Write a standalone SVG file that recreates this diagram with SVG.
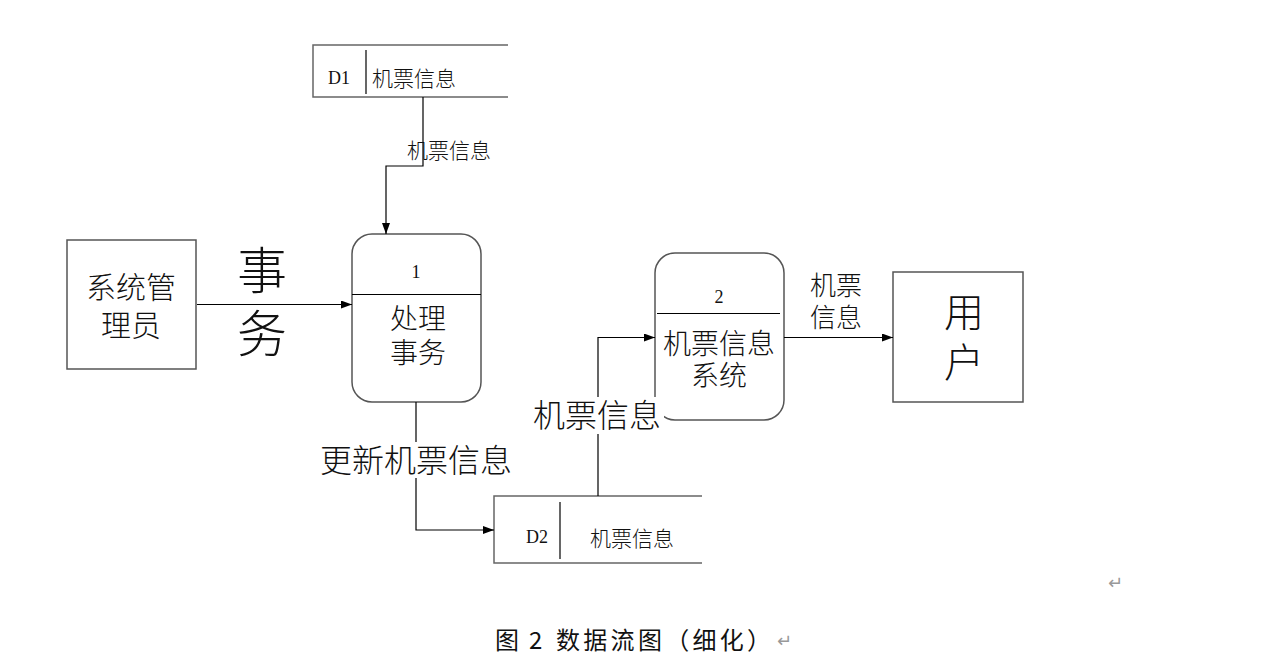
<svg xmlns="http://www.w3.org/2000/svg" width="1281" height="660" viewBox="0 0 1281 660">
<style>
.box{fill:#fff;stroke:#555;stroke-width:1.5}
.ln{fill:none;stroke:#000;stroke-width:1.2}
.store{fill:none;stroke:#666;stroke-width:1.5}
.cn{font-family:"Noto Sans CJK SC","Noto Sans CJK JP",sans-serif;font-weight:300;fill:#111}
.num{font-family:"Liberation Serif",serif;fill:#111;font-size:18px}
.cap{font-family:"Noto Sans CJK SC","Noto Sans CJK JP",sans-serif;font-size:24px;fill:#111}
.ret{font-family:"DejaVu Sans",sans-serif;font-size:18px;fill:#999}
.bg{fill:#fff}
.mid{text-anchor:middle}
</style>
<defs>
<marker id="arr" markerUnits="userSpaceOnUse" markerWidth="11" markerHeight="8" refX="11" refY="4" orient="auto">
<path d="M0,0 L11,4 L0,8 z" fill="#000"/>
</marker>
</defs>
<rect width="1281" height="660" fill="#fff"/>

<g id="admin">
<rect class="box" x="67" y="240" width="129" height="129"/>
<text class="cn mid" x="131" y="298" font-size="30">系统管</text>
<text class="cn mid" x="131" y="336" font-size="30">理员</text>
</g>

<g id="p1">
<rect class="box" x="352" y="234" width="129" height="168" rx="20"/>
<line class="ln" x1="352" y1="294.5" x2="481" y2="294.5"/>
<text class="num mid" x="416" y="278">1</text>
<text class="cn mid" x="418" y="329" font-size="28">处理</text>
<text class="cn mid" x="418" y="363" font-size="28">事务</text>
</g>

<g id="p2">
<rect class="box" x="655" y="253" width="129" height="167" rx="20"/>
<line class="ln" x1="657" y1="313.5" x2="780" y2="313.5"/>
<text class="num mid" x="719" y="303">2</text>
<text class="cn mid" x="719" y="354" font-size="28">机票信息</text>
<text class="cn mid" x="719" y="386" font-size="28">系统</text>
</g>

<g id="user">
<rect class="box" x="893" y="272" width="130" height="130"/>
<text class="cn mid" x="964" y="327" font-size="40">用</text>
<text class="cn mid" x="964" y="377" font-size="40">户</text>
</g>

<g id="d1">
<path class="store" d="M508,45 H313 V97 H508"/>
<line class="ln" x1="366" y1="50" x2="366" y2="94"/>
<text class="num" x="328" y="84">D1</text>
<text class="cn" x="372" y="86" font-size="21">机票信息</text>
</g>

<g id="d2">
<path class="store" d="M702,496 H494 V563 H702"/>
<line class="ln" x1="560" y1="502" x2="560" y2="559"/>
<text class="num" x="526" y="543">D2</text>
<text class="cn" x="590" y="546" font-size="21">机票信息</text>
</g>

<g id="connectors">
<path class="ln" d="M423,97 V166 H386 V234" marker-end="url(#arr)"/>
<path class="ln" d="M197,304.5 H352" marker-end="url(#arr)"/>
<path class="ln" d="M416,402 V530 H494" marker-end="url(#arr)"/>
<path class="ln" d="M598,496 V337.5 H655" marker-end="url(#arr)"/>
<path class="ln" d="M784,337.5 H893" marker-end="url(#arr)"/>
</g>

<g id="labels">
<text class="cn" x="407" y="158" font-size="21">机票信息</text>
<text class="cn mid" x="262" y="289" font-size="50">事</text>
<text class="cn mid" x="262" y="352" font-size="50">务</text>
<rect class="bg" x="319" y="442" width="196" height="36"/>
<text class="cn" x="320" y="472" font-size="32">更新机票信息</text>
<rect class="bg" x="532" y="397" width="132" height="37"/>
<text class="cn" x="533" y="427" font-size="32">机票信息</text>
<text class="cn mid" x="836" y="295" font-size="26">机票</text>
<text class="cn mid" x="836" y="327" font-size="26">信息</text>
</g>

<text class="ret" x="1108" y="589">↵</text>
<g id="caption">
<text class="cap" x="495" y="649">图</text>
<text class="cap" x="529" y="649">2</text>
<text class="cap" x="556" y="649" letter-spacing="3.3">数据流图（细化）</text>
<text class="ret" x="777" y="647">↵</text>
</g>
</svg>
